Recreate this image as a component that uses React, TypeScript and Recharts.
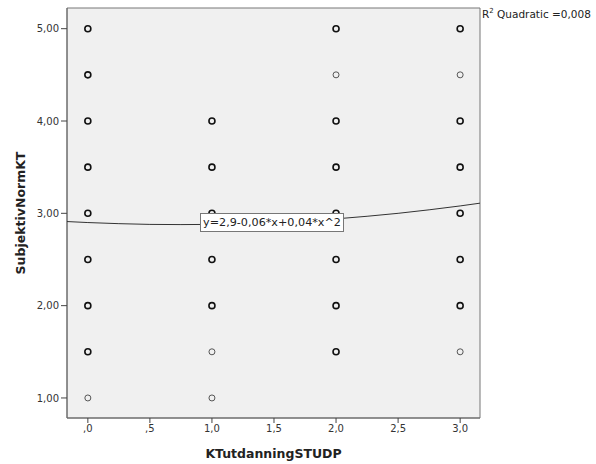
import React from 'react';
import {
    ScatterChart, Scatter, XAxis, YAxis, ReferenceArea
} from 'recharts';

// --- DATA ---
// observations, split by how dark the marker looks (overlapping cases get darker)
const DENSE_X = [0, 0, 0, 0, 0, 0, 0, 0, 1, 1, 1, 1, 1, 2, 2, 2, 2, 2, 2, 2, 3, 3, 3, 3, 3, 3];
const DENSE_Y = [5, 4.5, 4, 3.5, 3, 2.5, 2, 1.5, 4, 3.5, 3, 2.5, 2, 5, 4, 3.5, 3, 2.5, 2, 1.5, 5, 4, 3.5, 3, 2.5, 2];
const SINGLE_X = [0, 1, 1, 2, 3, 3];
const SINGLE_Y = [1, 1.5, 1, 4.5, 4.5, 1.5];

// fitted quadratic
const FIT_X = [-0.17, 0, 0.25, 0.5, 0.75, 1, 1.25, 1.5, 1.75, 2, 2.25, 2.5, 2.75, 3, 3.16];
const FIT_Y = [2.911, 2.9, 2.888, 2.88, 2.878, 2.88, 2.888, 2.9, 2.918, 2.94, 2.968, 3.0, 3.038, 3.08, 3.11];

const X_TICKS = [0, 0.5, 1, 1.5, 2, 2.5, 3];
const Y_TICKS = [1, 2, 3, 4, 5];

const X_DOMAIN = [-0.168, 3.16];
const Y_DOMAIN = [0.783, 5.224];

const dense = DENSE_X.map((x, i) => ({ x, y: DENSE_Y[i] }));
const single = SINGLE_X.map((x, i) => ({ x, y: SINGLE_Y[i] }));
const fit = FIT_X.map((x, i) => ({ x, y: FIT_Y[i] }));

const FONT = '"DejaVu Sans", sans-serif';
const TICK = { fontSize: 10, fill: '#333', fontFamily: FONT };

const fmtX = (v: number) => {
    const s = v.toFixed(1).replace('.', ',');
    return s.startsWith('0') ? s.slice(1) : s;
};
const fmtY = (v: number) => v.toFixed(2).replace('.', ',');

const Ring = (stroke: string, width: number) => (props: any) => (
    <circle cx={props.cx} cy={props.cy} r={3} fill="none" stroke={stroke} strokeWidth={width} />
);

const YLabel = ({ viewBox }: any) => {
    const cx = 20;
    const cy = viewBox.y + viewBox.height / 2;
    return (
        <text x={cx} y={cy} transform={`rotate(-90, ${cx}, ${cy})`} textAnchor="middle"
            dominantBaseline="central" fontSize={12.5} fontWeight="bold" fill="#222" fontFamily={FONT}>
            SubjektivNormKT
        </text>
    );
};

export default function App() {
    return (
        <div style={{ position: 'absolute', left: 0, top: 0, width: 596, height: 464, background: '#fff' }}>
            <ScatterChart width={596} height={464} margin={{ top: 8, right: 116, left: 0, bottom: 0 }}>
                <ReferenceArea
                    x1={X_DOMAIN[0]} x2={X_DOMAIN[1]} y1={Y_DOMAIN[0]} y2={Y_DOMAIN[1]}
                    fill="#f0f0f0" fillOpacity={1} stroke="#777" strokeWidth={1}
                />
                <XAxis
                    type="number" dataKey="x" domain={X_DOMAIN} ticks={X_TICKS} allowDataOverflow
                    tickFormatter={fmtX} height={46} tickSize={5} tick={TICK}
                    axisLine={{ stroke: '#666' }} tickLine={{ stroke: '#444' }}
                    label={{ value: 'KTutdanningSTUDP', position: 'insideBottom', offset: 6, fontSize: 12.5, fontWeight: 'bold', fill: '#222', fontFamily: FONT }}
                />
                <YAxis
                    type="number" dataKey="y" domain={Y_DOMAIN} ticks={Y_TICKS} allowDataOverflow
                    tickFormatter={fmtY} width={67} tickSize={6} tick={TICK}
                    axisLine={{ stroke: '#666' }} tickLine={{ stroke: '#444' }}
                    label={<YLabel />}
                />
                <Scatter data={fit} line={{ stroke: '#333', strokeWidth: 1 }} lineType="joint"
                    shape={() => <g />} isAnimationActive={false} />
                <Scatter data={single} shape={Ring('#555', 1)} isAnimationActive={false} />
                <Scatter data={dense} shape={Ring('#111', 1.6)} isAnimationActive={false} />
            </ScatterChart>
            <div style={{
                position: 'absolute', left: 200, top: 213, width: 142, height: 17,
                border: '1px solid #777', background: '#fff', fontFamily: FONT, fontSize: 11.2,
                lineHeight: '17px', textAlign: 'center', color: '#222', whiteSpace: 'nowrap'
            }}>
                y=2,9-0,06*x+0,04*x^2
            </div>
            <div style={{
                position: 'absolute', left: 482, top: 7, fontFamily: FONT, fontSize: 10.5,
                color: '#222', whiteSpace: 'nowrap'
            }}>
                R<sup style={{ fontSize: 7 }}>2</sup> Quadratic =0,008
            </div>
        </div>
    );
}
